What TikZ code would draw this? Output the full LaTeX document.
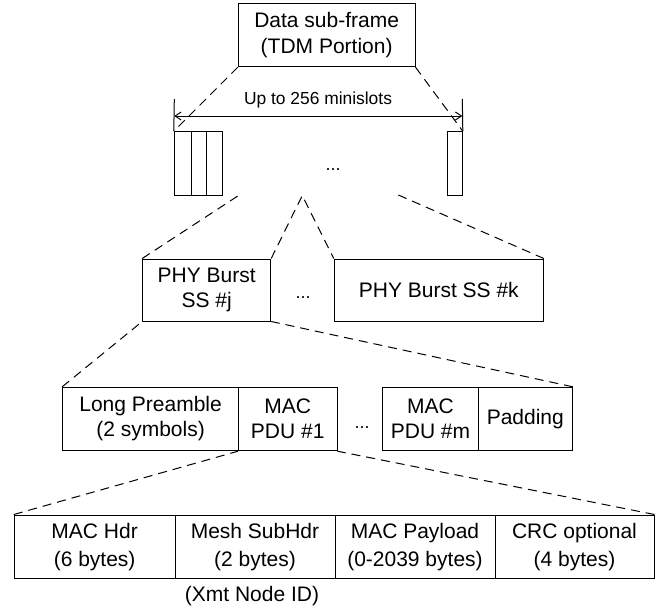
\documentclass[tikz,border=0pt]{standalone}
\usepackage{fontspec}
\setmainfont{Liberation Sans}
\usetikzlibrary{arrows.meta}
\begin{document}
\begin{tikzpicture}[x=1pt,y=-1pt,
  box/.style={draw, line width=1pt, inner sep=0pt, align=center, font=\fontsize{21}{25}\selectfont},
  dsh/.style={line width=1pt, dash pattern=on 9pt off 6pt},
  lbl/.style={inner sep=0pt, font=\fontsize{21}{25}\selectfont},
  dots/.style={inner sep=0pt, font=\fontsize{18}{20}\selectfont},
  dim/.style={line width=1pt},
  tip/.style={line width=1pt, {Straight Barb[length=6pt,width=8pt]}-{Straight Barb[length=6pt,width=8pt]}}]
\useasboundingbox (0,0) rectangle (671,608);
% top box
\node[box, minimum width=176.7pt, minimum height=63.4pt, font=\fontsize{21}{26}\selectfont] (top) at (326.65,35) {Data sub-frame\\(TDM Portion)};
% minislots
\node[box, minimum width=16.7pt, minimum height=63.3pt] (s1) at (182.65,163.35) {};
\node[box, minimum width=15.7pt, minimum height=63.3pt] (s2) at (198.85,163.35) {};
\node[box, minimum width=16pt, minimum height=63.3pt] (s3) at (214.7,163.35) {};
\node[box, minimum width=15.3pt, minimum height=63.3pt] (sn) at (454.65,163.35) {};
\node[dots, anchor=base] (d1) at (333,170) {...};
% dimension
\coordinate (t1) at (174.3,99);
\coordinate (t2) at (462.3,99);
\coordinate (a1) at (174.3,116);
\coordinate (a2) at (462.3,116);
\draw[dim] (s1.north west) -- (t1);
\draw[dim] (sn.north east) -- (t2);
\draw[tip] (a1) -- (a2);
\node[inner sep=0pt, anchor=base, font=\fontsize{17.4}{20}\selectfont] (dl) at (318,104.3) {Up to 256 minislots};
\draw[dsh] (top.south west) -- (s1.north west);
\draw[dsh] (top.south east) -- (sn.north east);
% PHY bursts
\node[box, minimum width=128pt, minimum height=62pt] (pj) at (206.7,290) {PHY Burst\\SS \#j};
\node[box, minimum width=209pt, minimum height=62pt] (pk) at (438.8,290) {PHY Burst SS \#k};
\node[dots, anchor=base] (d2) at (303,298) {...};
\coordinate (c1) at (239.3,195);
\coordinate (apex) at (302.3,195.5);
\coordinate (c2) at (398.3,195);
\draw[dsh] (pj.north west) -- (c1);
\draw[dsh] (pj.north east) -- (apex) -- (pk.north west);
\draw[dsh] (c2) -- (pk.north east);
% row 3
\node[box, minimum width=175.8pt, minimum height=63.4pt] (lp) at (150.6,419) {Long Preamble\\(2 symbols)};
\node[box, minimum width=98.5pt, minimum height=63.4pt] (m1) at (287.75,419) {MAC\\PDU \#1};
\node[box, minimum width=95.6pt, minimum height=63.4pt] (mm) at (430.5,419) {MAC\\PDU \#m};
\node[box, minimum width=94pt, minimum height=63.4pt] (pad) at (525.3,419) {Padding};
\node[dots, anchor=base] (d3) at (362,428) {...};
\draw[dsh] (lp.north west) -- (pj.south west);
\draw[dsh] (pad.north east) -- (pj.south east);
% row 4
\node[box, minimum width=160.7pt, minimum height=63.3pt, font=\fontsize{21}{28}\selectfont] (b1) at (94.65,546.65) {MAC Hdr\\(6 bytes)};
\node[box, minimum width=160pt, minimum height=63.3pt, font=\fontsize{21}{28}\selectfont] (b2) at (255,546.65) {Mesh SubHdr\\(2 bytes)};
\node[box, minimum width=160pt, minimum height=63.3pt, font=\fontsize{21}{28}\selectfont] (b3) at (415,546.65) {MAC Payload\\(0-2039 bytes)};
\node[box, minimum width=159pt, minimum height=63.3pt, font=\fontsize{21}{28}\selectfont] (b4) at (574.5,546.65) {CRC optional\\(4 bytes)};
\node[lbl, anchor=base] (xid) at (252,601.7) {(Xmt Node ID)};
\draw[dsh] (b1.north west) -- (m1.south west);
\draw[dsh] (b4.north east) -- (m1.south east);
\end{tikzpicture}
\end{document}
